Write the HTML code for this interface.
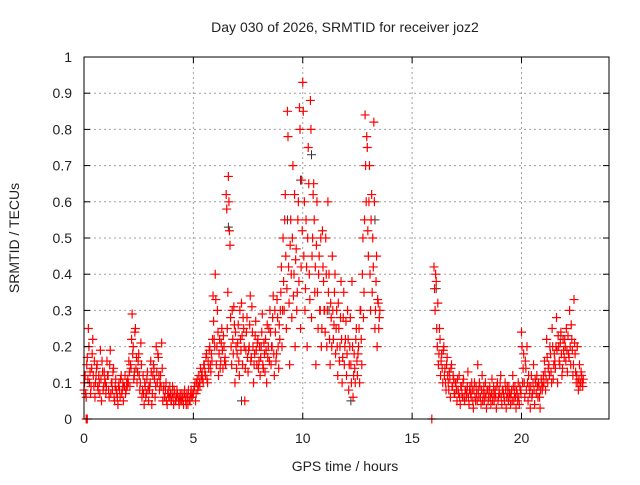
<!DOCTYPE html>
<html><head><meta charset="utf-8"><style>
body{margin:0;background:#fff}
svg text{font-family:"Liberation Sans",sans-serif;fill:#222}
</style></head><body>
<svg id="chart" width="640" height="480" xmlns="http://www.w3.org/2000/svg">
<rect width="640" height="480" fill="#fff"/>
<text x="345" y="32" font-size="14" text-anchor="middle">Day 030 of 2026, SRMTID for receiver joz2</text>
<text transform="translate(19,238) rotate(-90)" font-size="14" text-anchor="middle">SRMTID / TECUs</text>
<text x="345" y="471" font-size="14" text-anchor="middle">GPS time / hours</text>
<g id="grid"></g><g id="marks"></g><g id="axes"></g>
</svg>
<script>
const xTicks=[0,5,10,15,20];
const yTicks=[0,0.1,0.2,0.3,0.4,0.5,0.6,0.7,0.8,0.9,1];
const yTickLabels=["0","0.1","0.2","0.3","0.4","0.5","0.6","0.7","0.8","0.9","1"];
const seg1Start=0, seg1Step=0.05;
const seg1Values=[.08,.12,.06,.17,.25,.1,.07,.14,.22,.09,
.06,.12,.15,.08,.1,.19,.05,.13,.09,.11,
.07,.16,.12,.06,.19,.1,.08,.14,.05,.11,
.07,.04,.1,.06,.12,.08,.05,.09,.07,.1,
.11,.16,.09,.14,.29,.2,.12,.25,.17,.13,
.18,.08,.21,.06,.12,.04,.09,.07,.13,.05,
.08,.16,.04,.12,.14,.06,.2,.1,.17,.08,
.12,.21,.05,.09,.06,.1,.04,.08,.06,.07,
.05,.09,.04,.07,.05,.08,.06,.04,.07,.05,
.06,.04,.08,.05,.07,.04,.06,.05,.08,.06,
.07,.09,.05,.1,.08,.12,.09,.11,.13,.1,
.15,.12,.18,.1,.14,.2,.13,.16,.34,.22,
.4,.15,.3,.12,.22,.16,.25,.14,.2,.17,
.62,.25,.67,.52,.28,.15,.22,.31,.1,.2,
.18,.26,.12,.22,.32,.15,.25,.05,.19,.28,
.13,.2,.34,.17,.24,.1,.18,.27,.15,.22,
.16,.12,.2,.29,.14,.18,.22,.1,.17,.25,
.3,.15,.2,.34,.12,.24,.18,.28,.14,.22,
.35,.2,.5,.3,.62,.25,.85,.42,.15,.55,
.28,.7,.4,.2,.47,.35,.6,.86,.25,.66,
.93,.45,.3,.55,.2,.75,.4,.88,.28,.5,
.65,.35,.15,.6,.25,.45,.3,.2,.52,.38,
.3,.5,.2,.6,.4,.15,.28,.45,.22,.35,
.18,.3,.12,.25,.2,.38,.1,.28,.15,.22,
.12,.3,.08,.2,.15,.38,.06,.18,.1,.25,
.12,.2,.1,.3,.15,.5,.35,.84,.6,.75,
.45,.7,.3,.62,.5,.82,.25,.38,.2,.32,.28];
const seg1ValuesB=[.1,.07,.15,.11,.2,.13,.09,.18,.12,.16,
.1,.14,.09,.12,.07,.11,.16,.08,.13,.1,
.09,.12,.08,.15,.07,.1,.13,.06,.09,.08,
.06,.09,.08,.11,.07,.1,.09,.12,.08,.09,
.1,.13,.15,.22,.18,.11,.24,.14,.1,.16,
.12,.1,.15,.08,.07,.1,.06,.11,.08,.09,
.1,.13,.07,.15,.11,.09,.13,.18,.12,.1,
.09,.14,.08,.06,.08,.05,.07,.06,.09,.05,
.07,.06,.08,.05,.06,.07,.05,.06,.05,.07,
.05,.07,.06,.04,.06,.08,.05,.07,.06,.07,
.08,.1,.07,.11,.09,.1,.14,.12,.11,.15,
.13,.17,.11,.16,.19,.15,.18,.22,.27,.2,
.33,.2,.24,.18,.14,.21,.19,.23,.16,.15,
.58,.35,.6,.48,.2,.3,.18,.26,.24,.14,
.21,.16,.3,.19,.23,.28,.2,.14,.24,.17,
.19,.26,.16,.31,.2,.15,.23,.19,.21,.14,
.2,.17,.24,.15,.21,.13,.19,.26,.2,.16,
.24,.2,.28,.18,.3,.16,.33,.2,.26,.3,
.42,.3,.38,.55,.45,.36,.78,.32,.48,.4,
.5,.34,.62,.44,.3,.55,.38,.8,.42,.52,
.85,.6,.36,.42,.5,.65,.33,.8,.45,.62,
.55,.42,.48,.35,.4,.3,.5,.25,.42,.3,
.24,.4,.3,.35,.22,.32,.2,.3,.26,.4,
.25,.2,.32,.16,.28,.22,.17,.35,.2,.27,
.18,.22,.15,.28,.1,.2,.12,.14,.22,.16,
.18,.25,.3,.22,.4,.28,.55,.7,.78,.52,
.6,.4,.55,.35,.42,.6,.3,.45,.33,.25,.3];
const seg2Start=16.0, seg2Step=0.05;
const seg2Values=[.42,.3,.38,.2,.15,.25,.12,.18,.1,.2,
.14,.08,.17,.1,.13,.06,.15,.09,.11,.07,
.1,.05,.08,.12,.04,.09,.06,.11,.05,.08,
.07,.13,.04,.09,.06,.08,.03,.1,.05,.07,
.15,.06,.09,.04,.12,.07,.05,.1,.03,.08,
.06,.09,.04,.11,.07,.05,.08,.03,.1,.06,
.07,.12,.04,.08,.06,.1,.03,.09,.05,.07,
.04,.08,.12,.05,.09,.03,.07,.1,.04,.08,
.24,.1,.18,.06,.14,.2,.05,.09,.03,.12,
.07,.15,.04,.1,.12,.06,.09,.03,.11,.08,
.12,.16,.08,.22,.1,.15,.2,.13,.25,.11,
.18,.14,.28,.1,.2,.15,.24,.12,.22,.17,
.2,.25,.13,.18,.3,.15,.22,.12,.33,.18,
.1,.2,.08,.15,.1,.12,.09];
const seg2ValuesB=[.36,.4,.25,.32,.18,.22,.16,.14,.19,.12,
.1,.15,.12,.08,.11,.14,.09,.12,.07,.1,
.08,.11,.07,.06,.09,.07,.1,.06,.08,.06,
.09,.06,.08,.07,.1,.05,.08,.06,.09,.05,
.08,.1,.06,.08,.05,.09,.07,.06,.08,.05,
.08,.06,.07,.05,.09,.07,.06,.09,.05,.08,
.1,.06,.08,.07,.05,.08,.06,.07,.09,.06,
.07,.05,.09,.07,.06,.08,.05,.06,.09,.07,
.2,.14,.1,.16,.08,.1,.12,.07,.09,.06,
.1,.08,.11,.07,.09,.1,.06,.08,.1,.09,
.1,.13,.11,.17,.14,.12,.18,.1,.2,.15,
.16,.2,.19,.23,.16,.21,.18,.14,.19,.22,
.16,.19,.23,.17,.2,.26,.19,.15,.21,.13,
.12,.1,.11,.09,.13,.1,.11];
const zeroTimes=[0.1,0.15,15.9];
const blackTimes=[2.3,6.6,7.2,9.3,9.9,10.4,11.2,12.2,13.3,16.1,21.8];
const blackValues=[.13,.53,.05,.55,.66,.73,.3,.05,.55,.36,.23];

const L=84,R=609,T=57,B=419;
const xs=h=>L+(h/24)*(R-L);
const ys=v=>B-v*(B-T);
const NS="http://www.w3.org/2000/svg";
function mk(tag,attrs,parent){const e=document.createElementNS(NS,tag);for(const k in attrs)e.setAttribute(k,attrs[k]);parent.appendChild(e);return e;}
const grid=document.getElementById('grid'),marks=document.getElementById('marks'),axes=document.getElementById('axes');
yTicks.forEach((v,i)=>{
  if(i>0&&i<yTicks.length-1){const g=mk('line',{x1:L,x2:R,y1:ys(v),y2:ys(v),stroke:'#a0a0a0','stroke-dasharray':'2,3'},grid);
  
  }
  const t=mk('text',{x:L-12,y:ys(v)+5,'font-size':14,'text-anchor':'end'},axes);t.textContent=yTickLabels[i];
  
  
  mk('line',{x1:L,x2:L+6,y1:ys(v),y2:ys(v),stroke:'#000'},axes);
  mk('line',{x1:R,x2:R-6,y1:ys(v),y2:ys(v),stroke:'#000'},axes);
});
xTicks.forEach(h=>{
  if(h>0){const g=mk('line',{x1:xs(h),x2:xs(h),y1:T,y2:B,stroke:'#a0a0a0','stroke-dasharray':'2,3'},grid);
  
  }
  const t=mk('text',{x:xs(h),y:B+24,'font-size':14,'text-anchor':'middle'},axes);t.textContent=h;
  
  
  mk('line',{x1:xs(h),x2:xs(h),y1:B,y2:B-6,stroke:'#000'},axes);
  mk('line',{x1:xs(h),x2:xs(h),y1:T,y2:T+6,stroke:'#000'},axes);
});
const fr=mk('rect',{x:L,y:T,width:R-L,height:B-T,fill:'none',stroke:'#000','stroke-width':1},axes);


let d='',dk='';
const plus=(h,v)=>{const x=xs(h),y=ys(v);return `M${x-4.5},${y}h9M${x},${y-4.5}v9`;};
seg1Values.forEach((v,i)=>{d+=plus(seg1Start+i*seg1Step,v);});
seg1ValuesB.forEach((v,i)=>{d+=plus(seg1Start+(i+0.5)*seg1Step,v);});
seg2Values.forEach((v,i)=>{d+=plus(seg2Start+i*seg2Step,v);});
seg2ValuesB.forEach((v,i)=>{d+=plus(seg2Start+(i+0.5)*seg2Step,v);});
zeroTimes.forEach(h=>{d+=plus(h,0);});
blackTimes.forEach((h,i)=>{dk+=plus(h,blackValues[i]);});
const pk=mk('path',{d:dk,stroke:'#333',fill:'none','stroke-width':1},marks);


const pr=mk('path',{d:d,stroke:'#ff0000',fill:'none','stroke-width':1.2},marks);


</script>
</body></html>
